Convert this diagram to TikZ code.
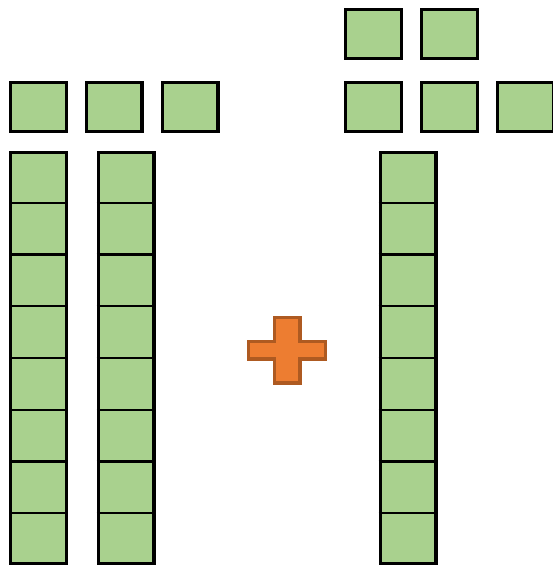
\documentclass[tikz,border=0pt]{standalone}
\usepackage{xcolor}
\usetikzlibrary{calc}
\definecolor{cellgreen}{HTML}{A9D18E}
\definecolor{plusorange}{HTML}{ED7D31}
\definecolor{plusedge}{HTML}{AE5A21}

\begin{document}
\begin{tikzpicture}[%
  x=1pt, y=-1pt,
  sq/.style={draw=black, fill=cellgreen, line width=3.2pt, inner sep=0pt, minimum width=55.8pt, minimum height=48.8pt},
  col/.style={draw=black, fill=cellgreen, line width=3.2pt, inner sep=0pt, minimum width=55.8pt, minimum height=410.8pt},
  divider/.style={draw=black, line width=2.2pt},
  plus/.style={draw=plusedge, fill=plusorange, line width=3.2pt, line join=miter}
]
\useasboundingbox (0,0) rectangle (552,570);

% Left group: loose cells
\node[sq] (la) at (38.5,107) {};
\node[sq] (lb) at (114,107) {};
\node[sq] (lc) at (190,107) {};

% Left group: two columns of eight
\node[col] (colA) at (38.5,358) {};
\node[col] (colB) at (126,358) {};

% Right group: loose cells
\node[sq] (ra) at (373.5,34) {};
\node[sq] (rb) at (449.5,34) {};
\node[sq] (rc) at (373.5,107) {};
\node[sq] (rd) at (449.5,107) {};
\node[sq] (re) at (525.5,107) {};

% Right group: one column of eight
\node[col] (colC) at (408,358) {};

% Cell dividers
\foreach \c in {colA,colB,colC}
  \foreach \k in {1,...,7}
    \draw[divider] ($(\c.north west)!\k/8!(\c.south west)$) -- ($(\c.north east)!\k/8!(\c.south east)$);

% Plus sign
\coordinate (mid) at (287,350);
\draw[plus] ($(mid)+(-12.9,-32.9)$) -- ($(mid)+(12.9,-32.9)$) -- ($(mid)+(12.9,-8.9)$)
  -- ($(mid)+(38.4,-8.9)$) -- ($(mid)+(38.4,8.9)$) -- ($(mid)+(12.9,8.9)$)
  -- ($(mid)+(12.9,32.9)$) -- ($(mid)+(-12.9,32.9)$) -- ($(mid)+(-12.9,8.9)$)
  -- ($(mid)+(-38.4,8.9)$) -- ($(mid)+(-38.4,-8.9)$) -- ($(mid)+(-12.9,-8.9)$) -- cycle;
\end{tikzpicture}
\end{document}
